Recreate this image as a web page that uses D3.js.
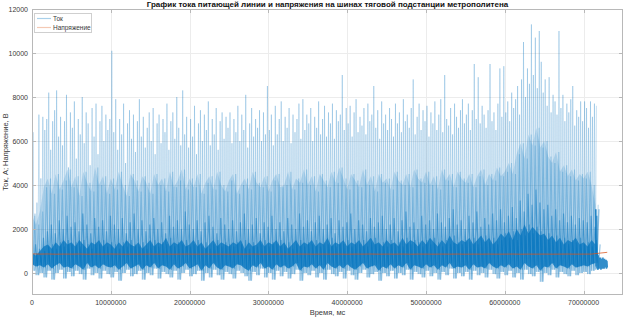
<!DOCTYPE html>
<html>
<head>
<meta charset="utf-8">
<script src="https://cdn.jsdelivr.net/npm/d3@7"></script>
<style>
  html, body { margin: 0; padding: 0; background: #fff; }
  svg { display: block; font-family: "Liberation Sans", Arial, sans-serif; }
</style>
</head>
<body>
<div id="chart"></div>
<script>
// Ток: спайки (шаг 0.25e6 мс), от 0 до 71.5e6
const tokPeaks = [
  6400, 2700, 3200, 7200, 4300, 7100, 6500, 7000, 8200, 5600, 6900, 7400, 8300, 6200, 7100, 5800, 6900, 8100, 4800, 7300,
  6600, 7800, 5200, 7000, 6300, 8000, 5900, 7300, 6800, 4900, 7500, 6200, 7700, 5400, 6900, 7600, 6000, 7200, 6500, 7000,
  10100, 6400, 7900, 5600, 7000, 6300, 7700, 5000, 6800, 7400, 6100, 7200, 5500, 6900, 7900, 6200, 7100, 5700, 6600, 7300,
  6000, 7500, 5400, 6800, 7200, 5900, 7000, 6400, 7700, 5600, 6900, 7300, 6100, 8000, 6600, 5800, 8300, 6300, 7100, 5700,
  7000, 6200, 7600, 5400, 6800, 7400, 6000, 7200, 6500, 7800, 5800, 7000, 6300, 7500, 5600, 6900, 7300, 6100, 7100, 6600,
  7300, 5900, 7000, 6400, 7600, 6000, 7200, 6500, 8100, 5700, 6800, 7500, 6200, 7000, 6600, 7400, 6000, 7300, 6300, 8500,
  6500, 7200, 5800, 7600, 6300, 7000, 7800, 6000, 7100, 6600, 7500, 5900, 7200, 6400, 7000, 7700, 6100, 7900, 6500, 7200,
  6800, 7500, 6000, 7100, 6600, 7800, 6300, 7000, 7600, 6200, 7300, 6800, 7700, 6100, 7400, 6900, 7200, 9000, 6500, 7500,
  6800, 7600, 6200, 7300, 7900, 6400, 7100, 6700, 7500, 6300, 7700, 6900, 7200, 8500, 6600, 7400, 6100, 7800, 6800, 7200,
  6500, 7500, 7000, 6200, 7700, 6800, 7300, 6400, 7900, 6900, 7200, 6600, 7500, 8800, 6300, 7100, 7700, 6500, 7400, 6900,
  7600, 6200, 7300, 6800, 7800, 6500, 7200, 7900, 6400, 9000, 7000, 6700, 7500, 6300, 7700, 7100, 6600, 7400, 7900, 6800,
  7200, 7700, 6500, 7400, 9500, 7000, 8900, 6800, 7600, 7200, 6600, 7400, 9500, 6900, 7300, 6500, 7700, 9300, 7100, 9400,
  7300, 7800, 6900, 8200, 7500, 7900, 8500, 7200, 8800, 10500, 8000, 9300, 8600, 11300, 9000, 10700, 8400, 11000, 9600, 8200,
  8800, 7600, 8900, 7300, 8100, 7800, 7200, 11000, 7500, 8100, 6900, 7700, 7300, 7900, 8500, 6700, 7400, 7100, 7800, 6900,
  7800, 7500, 6600, 7800, 7100, 7700, 7600
];
const peakStep = 0.25e6;

// Ток: средний уровень, ядро, плотная часть, минимумы (шаг 0.5e6 мс)
const tokMid = [
  2600, 2200, 2800, 3900, 4300, 3600, 4500, 3800, 4200, 4700,
  3900, 4400, 3500, 4600, 4100, 3700, 4800, 4000, 4400, 3600,
  4300, 3800, 4600, 4000, 3500, 4500, 4200, 3700, 4400, 4100,
  3600, 4500, 4000, 4300, 3700, 4600, 3900, 4200, 4700, 3800,
  4300, 3900, 4500, 3600, 4100, 4400, 3800, 4600, 4000, 3700,
  4200, 4500, 3600, 4000, 4300, 3800, 4600, 4100, 3900, 4400,
  3700, 4200, 4500, 3900, 4000, 4600, 3800, 4300, 4100, 4700,
  4000, 4400, 3700, 4500, 4200, 3900, 4600, 4100, 4800, 4300,
  3800, 4500, 4200, 3900, 4700, 4000, 4400, 3700, 4500, 4100,
  4300, 3800, 4600, 4200, 4000, 4500, 3900, 4700, 4300, 4100,
  4600, 4000, 4400, 3800, 4700, 4200, 4500, 3900, 4600, 4300,
  4100, 4500, 3900, 4400, 4700, 4000, 4500, 4200, 4800, 4400,
  4600, 5000, 4500, 5400, 5900, 5200, 6300, 5800, 6600, 5700,
  6000, 5300, 5000, 5500, 4600, 4900, 4400, 4700, 4200, 4500,
  4300, 4600, 4000, 3100
];
const tokCore = [
  1300, 1100, 1600, 1900, 2200, 1800, 2400, 2000, 2600, 2100,
  2300, 1900, 2700, 2200, 1800, 2500, 2100, 2400, 1900, 2600,
  2200, 2000, 2500, 1800, 2300, 2700, 2000, 2400, 1900, 2200,
  2500, 2000, 2300, 1800, 2600, 2100, 2400, 2000, 2800, 2200,
  2000, 2400, 1900, 2300, 2600, 2100, 1800, 2500, 2200, 2000,
  2400, 1900, 2300, 2700, 2000, 2200, 2500, 1800, 2300, 2100,
  2600, 2000, 2300, 1900, 2500, 2200, 2000, 2700, 2100, 2400,
  1900, 2300, 2600, 2000, 2200, 2500, 1800, 2400, 2100, 2300,
  2700, 2000, 2400, 2200, 1900, 2500, 2100, 2300, 2600, 2000,
  2200, 2500, 1900, 2400, 2800, 2100, 2300, 2000, 2600, 2200,
  2400, 2000, 2700, 2300, 2100, 2500, 2900, 2200, 2400, 2000,
  2600, 2300, 2800, 2100, 2500, 2200, 2700, 2400, 2900, 2300,
  2600, 3000, 2500, 3300, 2800, 3600, 3100, 3800, 3200, 2900,
  3100, 2600, 2900, 2400, 2700, 2300, 2600, 2200, 2500, 2400,
  2300, 2600, 2100, 2900
];
const tokBase = [
  900, 800, 1000, 1200, 1300, 1100, 1400, 1200, 1500, 1300,
  1400, 1200, 1500, 1300, 1100, 1400, 1300, 1500, 1200, 1400,
  1300, 1100, 1400, 1200, 1500, 1300, 1200, 1400, 1100, 1300,
  1500, 1200, 1400, 1300, 1600, 1200, 1400, 1300, 1500, 1200,
  1300, 1500, 1200, 1400, 1100, 1300, 1500, 1200, 1400, 1300,
  1200, 1400, 1300, 1500, 1100, 1400, 1200, 1300, 1500, 1200,
  1400, 1300, 1500, 1200, 1400, 1100, 1300, 1500, 1200, 1400,
  1300, 1500, 1200, 1400, 1300, 1600, 1200, 1400, 1300, 1500,
  1200, 1400, 1300, 1500, 1200, 1400, 1600, 1300, 1400, 1200,
  1500, 1300, 1400, 1200, 1600, 1300, 1500, 1400, 1200, 1500,
  1300, 1600, 1400, 1200, 1500, 1300, 1700, 1400, 1300, 1500,
  1400, 1600, 1300, 1500, 1700, 1400, 1600, 1300, 1500, 1800,
  1600, 1900, 1500, 2000, 1700, 2200, 1800, 2100, 1900, 1700,
  1800, 1500, 1700, 1400, 1600, 1300, 1500, 1400, 1600, 1300,
  1400, 1200, 1500, 1300
];
const tokFloor = [
  400, 300, 350, 250, 400, 200, 350, 450, 250, 300,
  200, 400, 300, 150, 450, 250, 350, 200, 400, 300,
  250, 350, 150, 300, 450, 200, 300, 400, 150, 350,
  250, 450, 200, 350, 300, 150, 400, 200, 300, 450,
  200, 300, 400, 100, 350, 200, 450, 250, 150, 350,
  300, 200, 400, 350, 200, 100, 350, 250, 450, 200,
  300, 150, 400, 250, 350, 200, 300, 450, 100, 300,
  250, 400, 200, 350, 150, 450, 300, 200, 350, 200,
  400, 250, 150, 300, 450, 200, 300, 350, 100, 300,
  200, 400, 200, 350, 250, 450, 150, 350, 300, 200,
  400, 250, 350, 150, 350, 250, 450, 200, 300, 250,
  350, 150, 400, 250, 300, 200, 450, 300, 200, 350,
  250, 400, 200, 300, 150, 450, 300, 200, 350, 100,
  300, 250, 450, 200, 350, 300, 200, 400, 250, 300,
  350, 300, 400, 450
];
const tokLow = [
  100, -100, 0, -200, 100, -300, 0, 150, -250, 50,
  -150, 100, -50, -300, 200, -100, 0, -250, 100, -50,
  -200, 50, -350, 0, 150, -150, -50, 100, -300, 0,
  -100, 200, -250, 50, -50, -200, 100, -300, 0, 150,
  -150, -50, 100, -350, 0, -200, 150, -100, -300, 50,
  -50, -250, 100, 0, -150, -350, 50, -100, 200, -200,
  0, -300, 100, -150, 50, -250, -50, 150, -350, 0,
  -100, 100, -200, 0, -300, 150, -50, -150, 50, -250,
  100, -100, -300, 0, 150, -200, -50, 50, -350, 0,
  -150, 100, -250, 0, -100, 150, -300, 50, -50, -200,
  100, -150, 0, -300, 50, -100, 200, -250, 0, -150,
  50, -300, 100, -100, 0, -200, 150, -50, -250, 50,
  -100, 100, -200, 0, -300, 150, -50, -150, 50, -400,
  0, -100, 150, -200, 50, -50, -150, 100, -100, 0,
  50, -50, 100, 150
];
const bandStep = 0.5e6;

// Ток после окончания движения (хвост), шаг 0.05e6 мс от 71.55e6
const tailStart = 71.55e6;
const tailStep = 0.05e6;
const tokTail = [
  2900, 300, 2600, 200, 900, 150, 800, 250, 700, 200,
  650, 300, 700, 150, 600, 250, 650, 200, 700, 300,
  600, 200, 650, 250, 550, 300, 600, 200, 550, 250
];

// Напряжение (шаг 1e6 мс), 0 .. 73e6
const voltage = [
  870, 860, 865, 855, 860, 858, 862, 855, 860, 857,
  862, 858, 855, 860, 856, 861, 857, 859, 855, 860,
  858, 856, 861, 857, 859, 855, 860, 857, 862, 856,
  859, 857, 861, 855, 860, 858, 856, 861, 857, 859,
  855, 860, 858, 862, 856, 859, 857, 861, 855, 860,
  858, 856, 860, 857, 861, 855, 859, 857, 860, 856,
  858, 861, 855, 859, 857, 860, 856, 858, 861, 857,
  859, 860, 900, 940
];
const voltStep = 1e6;

const xTicks = [0, 10000000, 20000000, 30000000, 40000000, 50000000, 60000000, 70000000];
const yTicks = [0, 2000, 4000, 6000, 8000, 10000, 12000];

const width = 624, height = 319;
const margin = { top: 9, right: 1, bottom: 24, left: 32 };

const svg = d3.select("#chart").append("svg")
  .attr("width", width)
  .attr("height", height);

const x = d3.scaleLinear().domain([0, 75e6]).range([margin.left, width - margin.right]);
const y = d3.scaleLinear().domain([-1000, 12000]).range([height - margin.bottom, margin.top]);

const axisColor = "#b8b8b8";
const textColor = "#3a3a3a";
const blue = "#0072BD";

// grid
svg.append("g").selectAll("line").data(xTicks.slice(1)).join("line")
  .attr("x1", d => Math.round(x(d)) + 0.5).attr("x2", d => Math.round(x(d)) + 0.5)
  .attr("y1", y(12000)).attr("y2", y(-1000))
  .attr("stroke", "#ececec").attr("stroke-width", 1);
svg.append("g").selectAll("line").data(yTicks).join("line")
  .attr("x1", x(0)).attr("x2", x(75e6))
  .attr("y1", d => Math.round(y(d)) + 0.5).attr("y2", d => Math.round(y(d)) + 0.5)
  .attr("stroke", "#ececec").attr("stroke-width", 1);

svg.append("defs").append("clipPath").attr("id", "clip")
  .append("rect")
  .attr("x", x(0)).attr("y", y(12000))
  .attr("width", x(75e6) - x(0)).attr("height", y(-1000) - y(12000));

const plot = svg.append("g").attr("clip-path", "url(#clip)");

// zigzag between floor values and the given highs
function zigzag(highs, floors, step, phase) {
  const pts = [];
  highs.forEach((h, i) => {
    const t = i * step + phase;
    const lowIdx = Math.min(floors.length - 1, Math.floor(t / bandStep));
    pts.push([t, floors[lowIdx]]);
    pts.push([t + step / 2, h]);
  });
  return pts;
}

const line = d3.line().x(d => x(d[0])).y(d => y(d[1]));
const band = d3.area()
  .x(d => x(d.t))
  .y0(d => y(d.lo))
  .y1(d => y(d.hi));

function drawLine(pts, op, w) {
  plot.append("path")
    .attr("d", line(pts))
    .attr("fill", "none")
    .attr("stroke", blue)
    .attr("stroke-opacity", op)
    .attr("stroke-width", w)
    .attr("stroke-linejoin", "bevel");
}
function drawBand(highs, floors, op) {
  plot.append("path")
    .attr("d", band(highs.map((h, i) => ({ t: i * bandStep, lo: floors[i], hi: h }))))
    .attr("fill", blue)
    .attr("fill-opacity", op);
}

// light spikes
drawLine(zigzag(tokPeaks, tokLow, peakStep, 0), 0.22, 1.0);
// medium band
drawBand(tokMid, tokFloor, 0.17);
drawLine(zigzag(tokMid, tokLow, bandStep, 0.1e6), 0.26, 1.1);
// darker streaks
drawLine(zigzag(tokCore, tokFloor, bandStep, 0.2e6), 0.45, 1.2);
// dense core
drawBand(tokBase, tokFloor, 0.7);
drawLine(zigzag(tokBase, tokLow, bandStep, 0.35e6), 0.4, 1.2);

// хвост
drawLine(tokTail.map((v, i) => [tailStart + i * tailStep, v]), 0.8, 1.6);

// напряжение
plot.append("path")
  .attr("d", line(voltage.map((v, i) => [i * voltStep, v])))
  .attr("fill", "none")
  .attr("stroke", "#D95319")
  .attr("stroke-opacity", 0.75)
  .attr("stroke-width", 1);

// box
svg.append("rect")
  .attr("x", x(0) + 0.5).attr("y", y(12000) + 0.5)
  .attr("width", x(75e6) - x(0) - 1).attr("height", y(-1000) - y(12000) - 1)
  .attr("fill", "none").attr("stroke", axisColor);

// ticks (inward, on all sides)
const tl = 4;
xTicks.forEach(d => {
  const px = Math.round(x(d)) + 0.5;
  svg.append("line").attr("x1", px).attr("x2", px)
    .attr("y1", y(-1000)).attr("y2", y(-1000) - tl).attr("stroke", axisColor);
  svg.append("line").attr("x1", px).attr("x2", px)
    .attr("y1", y(12000)).attr("y2", y(12000) + tl).attr("stroke", axisColor);
});
yTicks.forEach(d => {
  const py = Math.round(y(d)) + 0.5;
  svg.append("line").attr("x1", x(0)).attr("x2", x(0) + tl)
    .attr("y1", py).attr("y2", py).attr("stroke", axisColor);
  svg.append("line").attr("x1", x(75e6)).attr("x2", x(75e6) - tl)
    .attr("y1", py).attr("y2", py).attr("stroke", axisColor);
});

// tick labels
svg.append("g").selectAll("text").data(xTicks).join("text")
  .attr("x", d => x(d)).attr("y", 305)
  .attr("text-anchor", "middle")
  .attr("font-size", 7).attr("fill", textColor)
  .text(d3.format("d"));
svg.append("g").selectAll("text").data(yTicks).join("text")
  .attr("x", 28).attr("y", d => y(d) + 2.5)
  .attr("text-anchor", "end")
  .attr("font-size", 7).attr("fill", textColor)
  .text(d3.format("d"));

// labels
svg.append("text")
  .attr("x", (x(0) + x(75e6)) / 2).attr("y", 315)
  .attr("text-anchor", "middle").attr("font-size", 7.5).attr("fill", textColor)
  .text("Время, мс");
svg.append("text")
  .attr("transform", `translate(8,${(y(12000) + y(-1000)) / 2}) rotate(-90)`)
  .attr("text-anchor", "middle").attr("font-size", 7.5).attr("fill", textColor)
  .text("Ток, А; Напряжение, В");
svg.append("text")
  .attr("x", (x(0) + x(75e6)) / 2).attr("y", 7)
  .attr("text-anchor", "middle").attr("font-size", 8).attr("font-weight", "bold")
  .attr("fill", "#111")
  .text("График тока питающей линии и напряжения на шинах тяговой подстанции метрополитена");

// legend
const legend = svg.append("g").attr("transform", "translate(34,13)");
legend.append("rect")
  .attr("x", 0.5).attr("y", 0.5).attr("width", 57).attr("height", 19)
  .attr("fill", "#fff").attr("stroke", "#cfcfcf");
const legendItems = [
  { label: "Ток", color: "#a9d0ea" },
  { label: "Напряжение", color: "#f4c9b4" }
];
legendItems.forEach((d, i) => {
  const ly = 5.5 + i * 9;
  legend.append("line")
    .attr("x1", 3).attr("x2", 17).attr("y1", ly).attr("y2", ly)
    .attr("stroke", d.color).attr("stroke-width", 1.2);
  legend.append("text")
    .attr("x", 19).attr("y", ly + 2.3)
    .attr("font-size", 6.5).attr("fill", textColor)
    .text(d.label);
});
</script>
</body>
</html>
